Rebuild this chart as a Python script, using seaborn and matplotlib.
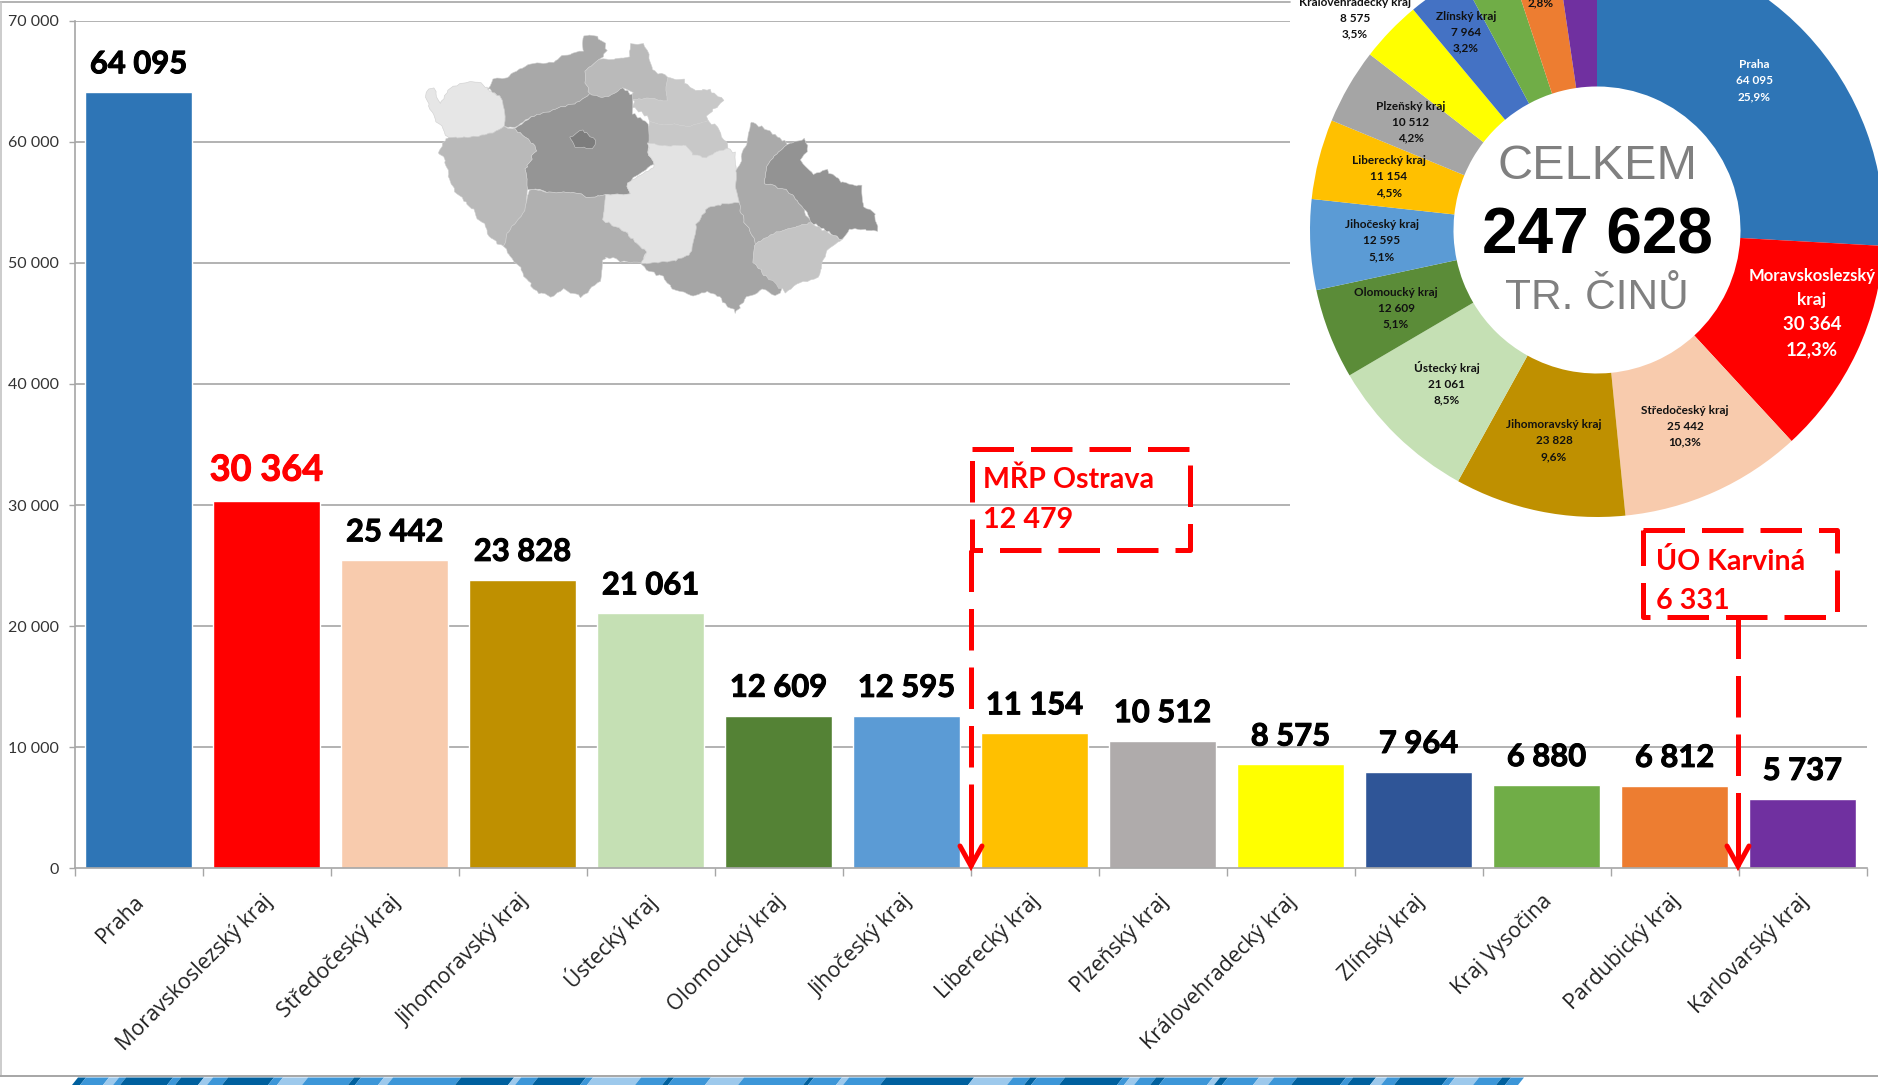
import math
import matplotlib
matplotlib.use("Agg")
import matplotlib.pyplot as plt
import matplotlib.patheffects as pe
import matplotlib.transforms as mtrans
from matplotlib.patches import Polygon
import seaborn as sns

W, H = 1878, 1085

# ---------- data ----------
regions = ["Praha", "Moravskoslezský kraj", "Středočeský kraj", "Jihomoravský kraj",
           "Ústecký kraj", "Olomoucký kraj", "Jihočeský kraj", "Liberecký kraj",
           "Plzeňský kraj", "Královehradecký kraj", "Zlínský kraj", "Kraj Vysočina",
           "Pardubický kraj", "Karlovarský kraj"]
crimes = [64095, 30364, 25442, 23828, 21061, 12609, 12595, 11154, 10512, 8575, 7964, 6880, 6812, 5737]
bar_colors = ["#2E75B6", "#FF0000", "#F8CBAD", "#BF9000", "#C5E0B4", "#548235", "#5B9BD5",
              "#FFC000", "#AFABAB", "#FFFF00", "#2F5597", "#70AD47", "#ED7D31", "#7030A0"]
pie_colors = ["#2E75B6", "#FF0000", "#F8CBAD", "#BF9000", "#C5E0B4", "#5B8C38", "#5B9BD5",
              "#FFC000", "#A5A5A5", "#FFFF00", "#4472C4", "#70AD47", "#ED7D31", "#7030A0"]
y_ticks = [0, 10000, 20000, 30000, 40000, 50000, 60000, 70000]
total_top = "CELKEM"
total_value = "247 628"
total_bottom = "TR. ČINŮ"
note_ostrava = ["MŘP Ostrava", "12 479"]
note_karvina = ["ÚO Karviná", "6 331"]


def spaced(v):
    return f"{v:,}".replace(",", " ")


def pct(v):
    return f"{v / sum(crimes) * 100:.1f}%".replace(".", ",")


sns.set_theme(style="white")
plt.rcParams["font.family"] = ["Lato", "DejaVu Sans"]
GRID = "#A6A6A6"

fig = plt.figure(figsize=(W / 100, H / 100), dpi=100, facecolor="white")

# ---------- bar chart ----------
L, R, T, B = 74.5, 1866.5, 20.7, 868.3
ax = fig.add_axes([L / W, 1 - B / H, (R - L) / W, (B - T) / H], facecolor="none")
ax.set_axisbelow(True)
split = (1290 - L) / (R - L) * len(regions) - 0.5
for t in y_ticks[1:]:
    ax.hlines(t, -0.5, split if t >= 30000 else len(regions) - 0.5, color=GRID, lw=1.2, zorder=0)
sns.barplot(x=regions, y=crimes, hue=regions, palette=bar_colors, dodge=False, width=0.83,
            saturation=1, legend=False, ax=ax, zorder=2)
ax.set_xlim(-0.5, len(regions) - 0.5)
ax.set_ylim(0, 70000)
ax.set_xlabel("")
ax.set_ylabel("")
for s in ["top", "right"]:
    ax.spines[s].set_visible(False)
for s in ["left", "bottom"]:
    ax.spines[s].set_color(GRID)
    ax.spines[s].set_linewidth(1.2)
ax.set_yticks(y_ticks)
ax.set_yticklabels([spaced(t) for t in y_ticks], fontsize=11.5, color="#333333")
ax.tick_params(axis="y", length=4, width=1.0, color=GRID, pad=7, left=True)
# ticks sit on the category boundaries, labels on the centres
ax.set_xticks([i - 0.5 for i in range(len(regions) + 1)], minor=True)
ax.set_xticks(range(len(regions)))
ax.set_xticklabels(regions, rotation=45, ha="right", va="center", rotation_mode="anchor",
                   fontsize=15.4, color="#222222", family=["Open Sans", "DejaVu Sans"])
ax.tick_params(axis="x", which="major", length=0, pad=0, bottom=False)
ax.tick_params(axis="x", which="minor", length=6, width=1.0, color=GRID, bottom=True)
shift = mtrans.ScaledTranslation(3 / 100, -30 / 100, fig.dpi_scale_trans)
for lab in ax.get_xticklabels():
    lab.set_transform(lab.get_transform() + shift)

for i, cont in enumerate(ax.containers):
    red = regions[i] == "Moravskoslezský kraj"
    col = "#FF0000" if red else "black"
    txts = ax.bar_label(cont, labels=[spaced(crimes[i])], padding=10, fontsize=26 if red else 22.3,
                        fontweight="bold", color=col)
    for tx in txts:
        tx.set_path_effects([pe.withStroke(linewidth=0.7, foreground=col)])

# ---------- donut ----------
CX, CY, RAD = 1597, 230, 287
pax = fig.add_axes([(CX - RAD) / W, 1 - (CY + RAD) / H, 2 * RAD / W, 2 * RAD / H], zorder=2)
pax.pie(crimes, colors=pie_colors, startangle=90, counterclock=False, radius=1,
        wedgeprops={"width": 0.5, "linewidth": 0})
pax.set_xlim(-1, 1)
pax.set_ylim(-1, 1)
pax.axis("off")

# ---------- overlay in pixel coordinates ----------
ov = fig.add_axes([0, 0, 1, 1], zorder=3, facecolor="none")
ov.set_xlim(0, W)
ov.set_ylim(H, 0)
ov.axis("off")

# frame
ov.plot([0, 1290], [1.5, 1.5], color=GRID, lw=1.2)
ov.plot([0.7, 0.7], [1.5, 1076], color="#C4C4C4", lw=1.2)
ov.plot([0, W], [1076, 1076], color=GRID, lw=1.4)

# ribbon along the bottom edge
ribbon_edges = [72, 80, 103, 113, 120, 167, 175, 198, 207, 222, 268, 277, 302, 348, 355, 378, 387,
                455, 508, 515, 532, 580, 587, 635, 662, 668, 705, 738, 803, 808, 836, 843, 880,
                968, 1007, 1024, 1031, 1059, 1117, 1124, 1134, 1150, 1159, 1207, 1214, 1222, 1253,
                1268, 1291, 1340, 1347, 1370, 1381, 1394, 1442, 1449, 1473, 1496, 1505, 1518]
ribbon_kinds = "dmlmdmdlmdmlmdmlmd" + "lmdmlmdmlmdmlmd" + "lmdmdmlmdmldmlmdmdlmdmlmdm"
ribbon_map = {"d": "#00609E", "m": "#3C96D8", "l": "#9DC9EC"}
for a, b, k in zip(ribbon_edges[:-1], ribbon_edges[1:], ribbon_kinds):
    ov.add_patch(Polygon([(a, 1085), (b, 1085), (b + 6, 1077.5), (a + 6, 1077.5)],
                         closed=True, fc=ribbon_map[k], ec="none"))

# decorative map of the regions (outlines in 3x crop coordinates)
map_regions = [
    ("#E6E6E6", [(80,210),(100,205),(120,250),(150,205),(185,192),(235,185),(262,205),(310,235),(312,320),(240,350),(145,350),(95,280),(80,230)]),
    ("#A8A8A8", [(265,205),(280,180),(320,170),(350,150),(390,128),(460,125),(490,105),(550,95),(550,45),(590,50),(615,70),(620,95),(600,120),(565,140),(552,175),(570,225),(530,250),(465,265),(410,285),(340,320),(312,320),(310,235)]),
    ("#BABABA", [(552,175),(565,140),(600,120),(650,120),(690,110),(690,75),(730,75),(750,110),(755,150),(800,170),(800,240),(700,235),(700,215),(670,205),(615,230),(570,225)]),
    ("#C8C8C8", [(700,235),(800,240),(800,170),(850,180),(885,215),(930,210),(970,240),(920,290),(925,305),(860,320),(745,305),(740,290),(700,260)]),
    ("#C8C8C8", [(745,305),(860,320),(925,305),(950,320),(985,385),(920,410),(880,405),(860,380),(745,370)]),
    ("#959595", [(340,325),(410,285),(465,265),(530,250),(570,225),(615,230),(670,205),(700,225),(700,280),(745,310),(745,395),(760,430),(680,490),(690,520),(620,522),(565,532),(520,515),(440,515),(385,505),(375,450),(410,385),(370,345)]),
    ("#7D7D7D", [(510,350),(550,330),(585,360),(580,385),(525,385)]),
    ("#B9B9B9", [(145,350),(240,350),(312,320),(340,325),(370,345),(410,385),(375,450),(385,505),(375,570),(330,625),(310,680),(290,675),(220,570),(190,540),(150,490),(135,420),(115,395)]),
    ("#B0B0B0", [(385,510),(440,515),(520,515),(565,532),(620,522),(610,600),(680,640),(740,695),(725,730),(690,730),(620,710),(610,725),(600,785),(545,830),(490,810),(455,830),(400,810),(390,790),(350,730),(310,680),(330,625),(375,570)]),
    ("#E3E3E3", [(620,525),(690,520),(680,490),(760,445),(760,430),(745,395),(745,370),(860,380),(880,405),(920,410),(985,385),(1010,400),(1005,470),(1018,550),(970,555),(925,565),(885,620),(880,690),(830,725),(725,735),(740,695),(680,640),(610,600)]),
    ("#A5A5A5", [(925,565),(970,555),(1018,550),(1030,600),(1070,670),(1060,730),(1100,770),(1155,800),(1130,825),(1090,810),(1040,830),(1005,878),(950,825),(915,815),(880,825),(820,810),(790,770),(730,745),(725,735),(830,725),(880,690),(885,620)]),
    ("#AAAAAA", [(1005,470),(1030,400),(1040,370),(1050,305),(1100,330),(1160,370),(1100,440),(1095,490),(1160,510),(1200,550),(1235,610),(1130,640),(1070,670),(1030,600),(1018,550)]),
    ("#939393", [(1160,370),(1215,355),(1225,385),(1200,420),(1240,465),(1275,445),(1330,490),(1385,495),(1390,560),(1425,580),(1430,630),(1345,630),(1330,660),(1240,610),(1200,550),(1160,510),(1095,490),(1100,440)]),
    ("#C4C4C4", [(1070,670),(1130,640),(1235,610),(1330,660),(1280,690),(1255,770),(1200,790),(1155,815),(1100,770),(1060,730)]),
]


def rough(pts):
    """Give the outline a border-like roughness that depends only on position,
    so that borders shared by two regions stay together."""
    out = []
    for (x0, y0), (x1, y1) in zip(pts, pts[1:] + pts[:1]):
        n = max(1, int(math.hypot(x1 - x0, y1 - y0) / 9))
        for k in range(n):
            x = x0 + (x1 - x0) * k / n
            y = y0 + (y1 - y0) * k / n
            out.append((x + 3.0 * math.sin(0.37 * x + 0.71 * y) + 1.5 * math.sin(1.3 * y),
                        y + 3.0 * math.sin(0.63 * x - 0.29 * y) + 1.5 * math.sin(1.1 * x)))
    return out


for col, pts in map_regions:
    ov.add_patch(Polygon([(400 + x / 3, 20 + y / 3) for x, y in rough(pts)], closed=True,
                         fc=col, ec="#CFCFCF", lw=0.4))

# donut labels: (x, first line y, colour)
pie_label_pos = {
    "Praha": (1754, 65, "white"), "Středočeský kraj": (1685, 410, "#111111"),
    "Jihomoravský kraj": (1554, 425, "#111111"), "Ústecký kraj": (1447, 368, "#111111"),
    "Olomoucký kraj": (1396, 292, "#111111"), "Jihočeský kraj": (1382, 225, "#111111"),
    "Liberecký kraj": (1389, 161, "#111111"), "Plzeňský kraj": (1411, 106, "#111111"),
    "Královehradecký kraj": (1355, 2, "#111111"), "Zlínský kraj": (1466, 16, "#111111"),
}
for name, (x, y, c) in pie_label_pos.items():
    v = crimes[regions.index(name)]
    for j, s in enumerate([name, spaced(v), pct(v)]):
        ov.text(x, y + j * 16, s, ha="center", va="center", fontsize=8.5, fontweight="bold", color=c)
ov.text(1541, 3, pct(crimes[regions.index("Pardubický kraj")]), ha="center", va="center",
        fontsize=8.5, fontweight="bold", color="#111111")
v = crimes[1]
for y, s, fs in zip([276, 300, 325, 350], ["Moravskoslezský", "kraj", spaced(v), pct(v)], [12, 12.5, 13.5, 13.5]):
    ov.text(1812, y, s, ha="center", va="center", fontsize=fs, fontweight="bold", color="white")

sans = ["Liberation Sans", "DejaVu Sans"]
ov.text(CX, 166.5, total_top, ha="center", va="center", fontsize=35, color="#808080", family=sans)
ov.text(CX, 237, total_value, ha="center", va="center", fontsize=46, fontweight="bold", color="black", family=sans)
ov.text(CX, 298, total_bottom, ha="center", va="center", fontsize=30.5, color="#808080", family=sans)

# dashed call-outs
dash = dict(color="#FF0000", lw=3.6, dashes=(8.3, 3.4), dash_capstyle="butt", solid_capstyle="butt")
solid = dict(color="#FF0000", lw=3.6, solid_capstyle="round", solid_joinstyle="miter")


def callout(x0, x1, y0, y1, xs, texts, tx, ty):
    ov.plot([x0, x1, x1, x0, x0], [y0, y0, y1, y1, y0], **dash)
    start = y0 if xs == x0 else y1
    ov.plot([xs, xs], [start, 866], **dash)
    ov.plot([xs, xs], [825, 864], **solid)
    ov.plot([xs - 11, xs, xs + 11], [846, 866, 846], **solid)
    for s, y in zip(texts, ty):
        ov.text(tx, y, s, ha="left", va="center", fontsize=20.6, fontweight="bold", color="#FF0000")


callout(972, 1190, 449, 550, 971, note_ostrava, 983, [480, 520])
callout(1643, 1837, 530, 617, 1738, note_karvina, 1656, [561, 601])

fig.savefig("out.png", dpi=100, facecolor="white")
